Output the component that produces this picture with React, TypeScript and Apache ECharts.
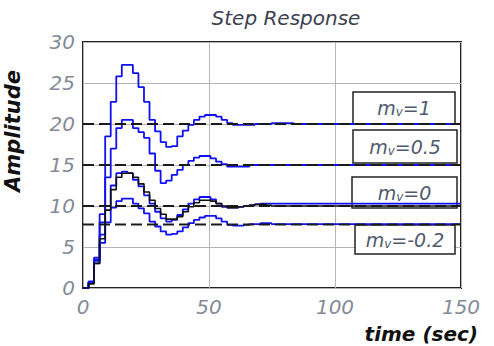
import React, { useEffect, useRef } from "react";
import * as echarts from "echarts";

// sample instants (sec) of the discrete step responses
const times = [0, 2.2, 4.4, 6.6, 8.8, 11, 13.2, 15.4, 17.6, 19.8, 22, 24.2, 26.4, 28.6, 30.8, 33, 35.2, 37.4, 39.6, 41.8, 44, 46.2, 48.4, 50.6, 52.8, 55, 57.2, 59.4, 61.6, 63.8, 66, 68.2, 70.4, 72.6, 74.8, 77, 79.2, 81.4, 83.6, 85.8, 88, 90.2, 150];

const respMv1 = [0, 0.8, 3.7, 9.0, 18.5, 22.7, 25.8, 27.2, 27.2, 26.2, 24.5, 22.7, 20.5, 19.1, 17.8, 17.2, 17.3, 18.5, 19.2, 19.9, 20.5, 20.9, 21.1, 21.1, 20.9, 20.5, 20.1, 19.9, 19.9, 19.9, 19.9, 20.0, 20.0, 20.0, 20.1, 20.1, 20.1, 20.1, 20.0, 20.0, 20.0, 20.0, 20.0];
const respMv05 = [0, 0.7, 3.5, 8.0, 13.5, 17.0, 19.5, 20.5, 20.5, 19.5, 19.0, 18.3, 16.4, 14.3, 12.8, 13.1, 13.8, 14.4, 15.0, 15.5, 15.9, 16.1, 16.1, 15.8, 15.4, 15.1, 14.8, 14.8, 14.8, 14.8, 15.0, 15.0, 15.0, 15.0, 15.0, 15.0, 15.0, 15.0, 15.0, 15.0, 15.0, 15.0, 15.0];
const respMv0 = [0, 0.7, 3.3, 6.5, 10.0, 12.5, 14.0, 14.2, 14.0, 13.2, 12.4, 11.3, 10.3, 9.3, 8.5, 8.1, 8.3, 8.9, 9.6, 10.3, 10.8, 11.1, 11.1, 10.8, 10.3, 9.9, 9.8, 9.8, 9.9, 10.0, 10.1, 10.2, 10.3, 10.3, 10.3, 10.3, 10.3, 10.3, 10.3, 10.3, 10.3, 10.3, 10.3];
const respMv0Black = [0, 0.5, 3.0, 6.0, 9.5, 12.0, 13.5, 14.0, 14.0, 13.5, 12.7, 11.7, 10.7, 9.7, 9.0, 8.4, 8.4, 8.7, 9.3, 9.9, 10.4, 10.7, 10.7, 10.6, 10.3, 10.0, 9.8, 9.8, 9.9, 10.0, 10.1, 10.2, 10.2, 10.1, 10.0, 10.0, 10.0, 10.0, 10.0, 10.0, 10.0, 10.0, 10.0];
const respMvNeg02 = [0, 0.6, 3.0, 5.5, 8.0, 9.8, 10.6, 10.9, 10.9, 10.3, 9.7, 9.1, 8.1, 7.5, 6.9, 6.5, 6.6, 6.9, 7.4, 7.9, 8.3, 8.6, 8.8, 8.8, 8.5, 8.1, 7.7, 7.6, 7.6, 7.7, 7.8, 7.8, 7.9, 7.9, 7.8, 7.8, 7.8, 7.8, 7.8, 7.8, 7.8, 7.8, 7.8];

// dashed steady-state reference levels
const refLevels = [20, 15, 10, 7.75];
const refRange = [0, 150];

// labels of the m_v boxes
const boxValues = ["1", "0.5", "0", "-0.2"];

const pairs = (vals: number[]) => vals.map((v, i) => [times[i], v]);

export default function App() {
  const ref = useRef<HTMLDivElement>(null);
  useEffect(() => {
    if (!ref.current) return;
    const chart = echarts.init(ref.current, null, { renderer: "svg" });
    const blue = "#1010f5";
    const curveSeries = [respMv1, respMv05, respMv0, respMvNeg02].map((vals) => ({
      type: "line",
      step: "end",
      data: pairs(vals),
      showSymbol: false,
      symbol: "none",
      lineStyle: { color: blue, width: 1.8 },
      z: 2,
    }));
    const blackSeries = {
      type: "line",
      step: "end",
      data: pairs(respMv0Black),
      symbol: "none",
      lineStyle: { color: "#111", width: 1.6 },
      z: 3,
    };
    const refSeries = refLevels.map((lv) => ({
      type: "line",
      data: refRange.map((t) => [t, lv]),
      symbol: "none",
      lineStyle: { color: "#1a1a1a", width: 2, type: [11, 5] },
      z: 4,
    }));
    const boxGeom = [
      { x: 353, y: 92, w: 102, h: 32 },
      { x: 353, y: 130, w: 104, h: 33 },
      { x: 352, y: 177, w: 105, h: 31 },
      { x: 355, y: 225, w: 100, h: 29 },
    ];
    const boxes: any[] = [];
    boxValues.forEach((val, i) => {
      const g = boxGeom[i];
      boxes.push({
        type: "rect",
        shape: { x: g.x, y: g.y, width: g.w, height: g.h },
        style: { fill: "#fff", stroke: "#222", lineWidth: 1.5 },
        z: 1,
      });
      boxes.push({
        type: "text",
        x: g.x + g.w / 2,
        y: g.y + g.h / 2,
        z: 5,
        style: {
          text: `{a|m}{b|v}{a|=${val}}`,
          align: "center",
          verticalAlign: "middle",
          rich: {
            a: { fontSize: 19, fontStyle: "italic", fontFamily: "DejaVu Sans", fill: "#4f5a6e", lineHeight: 20 },
            b: { fontSize: 12, fontStyle: "italic", fontFamily: "DejaVu Sans", fill: "#4f5a6e", lineHeight: 12, verticalAlign: "bottom" },
          },
        },
      });
    });
    const option: any = {
      animation: false,
      backgroundColor: "#fff",
      grid: { left: 83, right: 33, top: 42, bottom: 58, show: true, borderColor: "#222", borderWidth: 2, containLabel: false },
      xAxis: {
        type: "value",
        min: 0,
        max: 150,
        interval: 50,
        axisLine: { show: false },
        axisTick: { show: false },
        splitLine: { show: true, lineStyle: { color: "#b5b5b5", width: 1 } },
        axisLabel: { fontSize: 20, fontStyle: "italic", fontFamily: "DejaVu Sans", color: "#848a98", margin: 9 },
      },
      yAxis: {
        type: "value",
        min: 0,
        max: 30,
        interval: 5,
        axisLine: { show: false },
        axisTick: { show: false },
        splitLine: { show: true, lineStyle: { color: "#b5b5b5", width: 1 } },
        axisLabel: { fontSize: 20, fontStyle: "italic", fontFamily: "DejaVu Sans", color: "#848a98", margin: 8 },
      },
      graphic: [
        {
          type: "text",
          x: 286,
          y: 18,
          style: { text: "Step Response", align: "center", verticalAlign: "middle", fontSize: 20, fontStyle: "italic", fontFamily: "DejaVu Sans", fill: "#3c4050" },
        },
        {
          type: "text",
          x: 13,
          y: 131,
          rotation: Math.PI / 2,
          style: { text: "Amplitude", align: "center", verticalAlign: "middle", fontSize: 21, fontStyle: "italic", fontWeight: "bold", fontFamily: "DejaVu Sans", fill: "#111" },
        },
        {
          type: "text",
          x: 478,
          y: 334,
          style: { text: "time (sec)", align: "right", verticalAlign: "middle", fontSize: 20, fontStyle: "italic", fontWeight: "bold", fontFamily: "DejaVu Sans", fill: "#111" },
        },
        ...boxes,
      ],
      series: [...curveSeries, blackSeries, ...refSeries],
    };
    chart.setOption(option);
    return () => chart.dispose();
  }, []);
  return <div ref={ref} style={{ position: "fixed", left: 0, top: 0, width: 494, height: 346 }} />;
}
